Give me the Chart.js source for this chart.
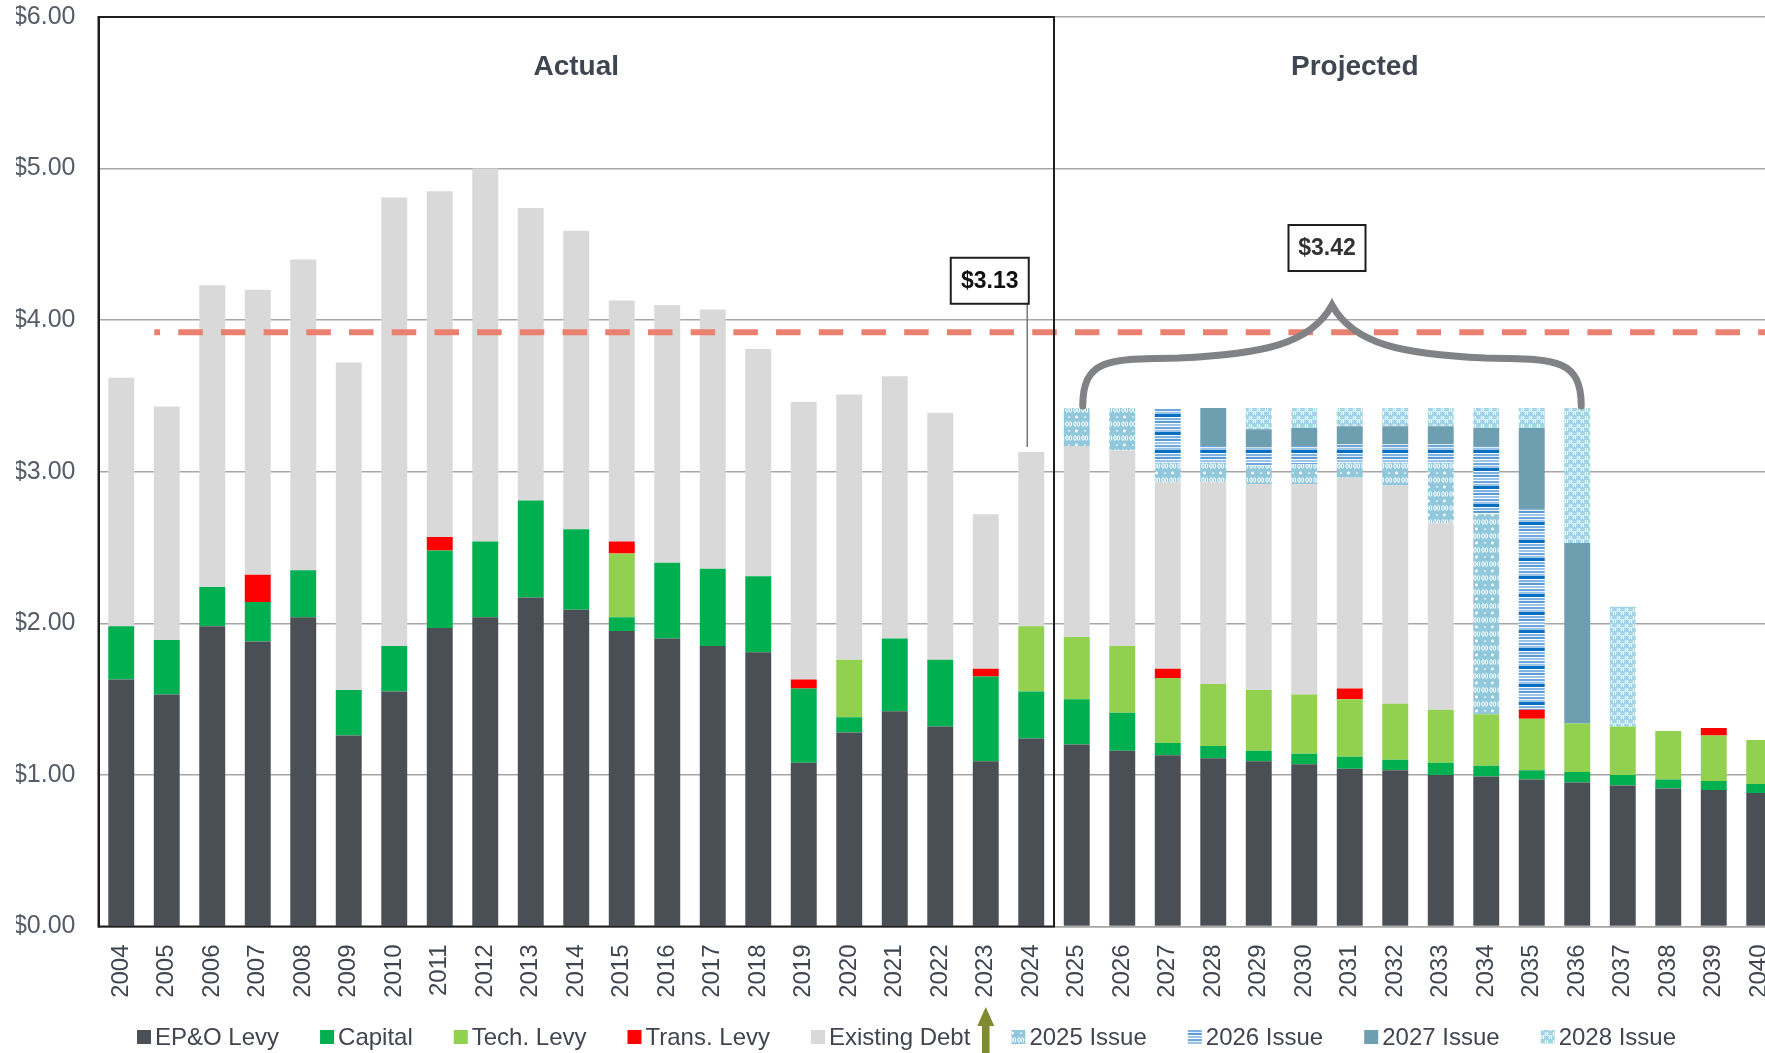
<!DOCTYPE html>
<html>
<head>
<meta charset="utf-8">
<script src="https://cdn.jsdelivr.net/npm/chart.js@4.4.1/dist/chart.umd.min.js"></script>
<style>
  html, body { margin: 0; padding: 0; overflow: hidden; background: #fff; }
  #wrap { position: absolute; left: 0; top: 0; width: 1816px; height: 1053px; }
</style>
</head>
<body>
<div id="wrap"><canvas id="chart" width="1816" height="1053"></canvas></div>
<script>
// categories
const years = ['2004','2005','2006','2007','2008','2009','2010','2011','2012','2013','2014',
  '2015','2016','2017','2018','2019','2020','2021','2022','2023','2024',
  '2025','2026','2027','2028','2029','2030','2031','2032','2033','2034',
  '2035','2036','2037','2038','2039','2040'];

// stacked segments, bottom to top
const epoLevy = [1.63,1.53,1.98,1.88,2.04,1.26,1.55,1.97,2.04,2.17,2.09,
  1.95,1.90,1.85,1.81,1.08,1.28,1.42,1.32,1.09,1.24,
  1.20,1.16,1.13,1.11,1.09,1.07,1.04,1.03,1.00,0.99,
  0.97,0.95,0.93,0.91,0.90,0.88];
const capital = [0.35,0.36,0.26,0.26,0.31,0.30,0.30,0.51,0.50,0.64,0.53,
  0.09,0.50,0.51,0.50,0.49,0.10,0.48,0.44,0.56,0.31,
  0.30,0.25,0.08,0.08,0.07,0.07,0.08,0.07,0.08,0.07,
  0.06,0.07,0.07,0.06,0.06,0.06];
const techLevy = [0,0,0,0,0,0,0,0,0,0,0,
  0.42,0,0,0,0,0.38,0,0,0,0.43,
  0.41,0.44,0.43,0.41,0.40,0.39,0.38,0.37,0.35,0.34,
  0.34,0.32,0.32,0.32,0.30,0.29];
const transLevy = [0,0,0,0.18,0,0,0,0.09,0,0,0,
  0.08,0,0,0,0.06,0,0,0,0.05,0,
  0,0,0.06,0,0,0,0.07,0,0,0,
  0.06,0,0,0,0.05,0];
const existingDebt = [1.64,1.54,1.99,1.88,2.05,2.16,2.96,2.28,2.46,1.93,1.97,
  1.59,1.70,1.71,1.50,1.83,1.75,1.73,1.63,1.02,1.15,
  1.26,1.29,1.23,1.33,1.36,1.39,1.39,1.44,1.23,0,
  0,0,0,0,0,0];
const issue2025 = [0,0,0,0,0,0,0,0,0,0,0,
  0,0,0,0,0,0,0,0,0,0,
  0.25,0.28,0.13,0.13,0.12,0.13,0.10,0.15,0.40,1.32,
  0,0,0,0,0,0];
const issue2026 = [0,0,0,0,0,0,0,0,0,0,0,
  0,0,0,0,0,0,0,0,0,0,
  0,0,0.36,0.11,0.12,0.12,0.12,0.12,0.12,0.45,
  1.32,0,0,0,0,0];
const issue2027 = [0,0,0,0,0,0,0,0,0,0,0,
  0,0,0,0,0,0,0,0,0,0,
  0,0,0,0.25,0.12,0.12,0.12,0.12,0.12,0.12,
  0.54,1.19,0,0,0,0];
const issue2028 = [0,0,0,0,0,0,0,0,0,0,0,
  0,0,0,0,0,0,0,0,0,0,
  0,0,0,0,0.14,0.13,0.12,0.12,0.12,0.13,
  0.13,0.89,0.79,0,0,0];

// y axis ticks
const yTickValues = [0, 1, 2, 3, 4, 5, 6];
const yTickLabels = ['$0.00', '$1.00', '$2.00', '$3.00', '$4.00', '$5.00', '$6.00'];

// annotations
const levyCap = 3.92;
const actualLast = 3.13;
const actualLastLabel = '$3.13';
const projectedLevel = 3.42;
const projectedLabel = '$3.42';

const FONT = "'Liberation Sans', Arial, sans-serif";

function tile(w, h, draw) {
  const c = document.createElement('canvas');
  c.width = w; c.height = h;
  draw(c.getContext('2d'));
  return document.getElementById('chart').getContext('2d').createPattern(c, 'repeat');
}

// 2025 issue: light blue with white rings and dots
const pat2025 = tile(16, 14, g => {
  g.fillStyle = '#92c8dc'; g.fillRect(0, 0, 16, 14);
  g.strokeStyle = '#ffffff'; g.lineWidth = 1;
  [[3, 4], [6.5, 4], [11, 4], [14.5, 4]].forEach(([cx, cy]) => {
    g.beginPath(); g.ellipse(cx, cy, 1.2, 2.4, 0, 0, Math.PI * 2); g.stroke();
  });
  g.fillStyle = '#ffffff';
  g.beginPath(); g.arc(4.5, 11, 1.4, 0, Math.PI * 2); g.fill();
  g.fillStyle = '#c7e4ef';
  g.fillRect(12, 10, 2, 2);
});

// 2026 issue: horizontal blue stripes
const pat2026 = tile(4, 18, g => {
  const rows = [[0, 3, '#0b6fc1'], [3, 1, '#ffffff'], [4, 2, '#7fb2e0'], [6, 1, '#e2eef8'],
    [7, 2, '#5b9bd5'], [9, 1, '#ffffff'], [10, 2, '#9cc3e8'], [12, 1, '#ffffff'],
    [13, 2, '#6fa6dc'], [15, 1, '#e2eef8'], [16, 2, '#9cc3e8']];
  rows.forEach(([y0, hh, col]) => { g.fillStyle = col; g.fillRect(0, y0, 4, hh); });
});

// 2028 issue: pale blue with short white vertical dashes
const pat2028 = tile(8, 8, g => {
  g.fillStyle = '#a6d3e4'; g.fillRect(0, 0, 8, 8);
  g.fillStyle = '#ffffff';
  g.fillRect(1, 0, 1, 3); g.fillRect(3, 0, 1, 3);
  g.fillRect(5, 4, 1, 3); g.fillRect(7, 4, 1, 3);
  g.fillStyle = '#d3ebf3';
  g.fillRect(0, 3, 8, 1);
});

function series(label, data, color) {
  return { label, data, backgroundColor: color, borderWidth: 0, stack: 's',
    barPercentage: 0.57, categoryPercentage: 1.0 };
}

const overlay = {
  id: 'overlay',
  afterDatasetsDraw(chart) {
    const { ctx, chartArea, scales: { x, y } } = chart;
    ctx.save();

    // limit line
    const yCap = y.getPixelForValue(levyCap);
    ctx.strokeStyle = '#ea8070';
    ctx.lineWidth = 6;
    ctx.setLineDash([24.5, 18.2]);
    ctx.lineDashOffset = 18.7;
    ctx.beginPath();
    ctx.moveTo(x.getPixelForValue(0) + 33, yCap);
    ctx.lineTo(chartArea.right, yCap);
    ctx.stroke();
    ctx.setLineDash([]);

    // "Actual" frame
    const split = (x.getPixelForValue(20) + x.getPixelForValue(21)) / 2;
    const top = y.getPixelForValue(6), bottom = y.getPixelForValue(0);
    ctx.strokeStyle = '#1e1e1e';
    ctx.lineWidth = 2;
    ctx.strokeRect(chartArea.left, top, split - chartArea.left, bottom - top);

    // section titles
    ctx.fillStyle = '#3f4652';
    ctx.font = `bold 28px ${FONT}`;
    ctx.textAlign = 'center';
    ctx.textBaseline = 'middle';
    ctx.fillText('Actual', (chartArea.left + split) / 2, top + 50);
    ctx.fillText('Projected', x.getPixelForValue(27) + 5, top + 50);

    // $3.13 call-out
    const bx = x.getPixelForValue(19) + 4, by = y.getPixelForValue(4.26);
    ctx.strokeStyle = '#777777';
    ctx.lineWidth = 1.5;
    ctx.beginPath();
    ctx.moveTo(x.getPixelForValue(20) - 4, by + 23);
    ctx.lineTo(x.getPixelForValue(20) - 4, y.getPixelForValue(actualLast) - 5);
    ctx.stroke();
    ctx.fillStyle = '#ffffff';
    ctx.fillRect(bx - 39, by - 23, 78, 46);
    ctx.strokeStyle = '#1e1e1e';
    ctx.lineWidth = 2;
    ctx.strokeRect(bx - 39, by - 23, 78, 46);
    ctx.fillStyle = '#111111';
    ctx.font = `bold 23px ${FONT}`;
    ctx.fillText(actualLastLabel, bx, by + 1);

    // brace over projected bars
    const x0 = x.getPixelForValue(21) + 6, x1 = x.getPixelForValue(32) + 4;
    const xm = (x0 + x1) / 2;
    const yb = y.getPixelForValue(projectedLevel) - 2;
    const ya = yb - 49, yp = yb - 101;
    ctx.strokeStyle = '#808285';
    ctx.lineWidth = 7;
    ctx.lineCap = 'round';
    ctx.beginPath();
    ctx.moveTo(x0, yb);
    ctx.bezierCurveTo(x0, ya, x0 + 28, ya + 2, x0 + 96, ya + 1);
    ctx.bezierCurveTo(xm - 72, ya - 3, xm - 22, ya - 12, xm, yp);
    ctx.bezierCurveTo(xm + 22, ya - 12, xm + 72, ya - 3, x1 - 96, ya + 1);
    ctx.bezierCurveTo(x1 - 28, ya + 2, x1, ya, x1, yb);
    ctx.stroke();
    ctx.lineCap = 'butt';

    // $3.42 label
    const px = xm - 5, py = y.getPixelForValue(4.476);
    ctx.fillStyle = '#ffffff';
    ctx.fillRect(px - 38.5, py - 23, 77, 46);
    ctx.strokeStyle = '#1e1e1e';
    ctx.lineWidth = 2;
    ctx.strokeRect(px - 38.5, py - 23, 77, 46);
    ctx.fillStyle = '#333333';
    ctx.fillText(projectedLabel, px, py + 1);

    ctx.restore();
  },
  afterDraw(chart) {
    const { ctx, scales: { x } } = chart;
    ctx.save();
    // legend
    ctx.font = `24px ${FONT}`;
    ctx.textBaseline = 'middle';
    ctx.textAlign = 'left';
    let lx = 137;
    const ly = 1037;
    chart.data.datasets.forEach(ds => {
      ctx.fillStyle = ds.backgroundColor;
      ctx.fillRect(lx, ly - 7, 14, 14);
      ctx.fillStyle = '#40454f';
      ctx.fillText(ds.label, lx + 18, ly + 1);
      lx += 18 + ctx.measureText(ds.label).width + 41;
    });
    // arrow under 2023
    const ax = x.getPixelForValue(19);
    ctx.fillStyle = '#7f8b30';
    ctx.beginPath();
    ctx.moveTo(ax, 1007);
    ctx.lineTo(ax + 8.5, 1026);
    ctx.lineTo(ax + 3.8, 1026);
    ctx.lineTo(ax + 3.8, 1060);
    ctx.lineTo(ax - 3.8, 1060);
    ctx.lineTo(ax - 3.8, 1026);
    ctx.lineTo(ax - 8.5, 1026);
    ctx.closePath();
    ctx.fill();
    ctx.restore();
  }
};

new Chart(document.getElementById('chart').getContext('2d'), {
  type: 'bar',
  data: {
    labels: years,
    datasets: [
      series('EP&O Levy', epoLevy, '#4a4f56'),
      series('Capital', capital, '#00b050'),
      series('Tech. Levy', techLevy, '#92d050'),
      series('Trans. Levy', transLevy, '#ff0000'),
      series('Existing Debt', existingDebt, '#d9d9d9'),
      series('2025 Issue', issue2025, pat2025),
      series('2026 Issue', issue2026, pat2026),
      series('2027 Issue', issue2027, '#6e9fb1'),
      series('2028 Issue', issue2028, pat2028)
    ]
  },
  options: {
    responsive: false,
    animation: false,
    layout: { padding: { left: 16, right: 34, top: 17, bottom: 56.5 } },
    plugins: { legend: { display: false }, tooltip: { enabled: false } },
    scales: {
      x: {
        stacked: true,
        grid: { display: false, drawTicks: false },
        border: { display: true, color: '#a6a6a6', width: 1.5 },
        ticks: { autoSkip: false, minRotation: 90, maxRotation: 90, padding: 18,
          color: '#3f4550', font: { family: FONT, size: 24 } },
        afterFit: axis => { axis.height = 70; axis.paddingLeft = 0; axis.paddingRight = 0; }
      },
      y: {
        stacked: true,
        min: 0,
        max: 6,
        afterBuildTicks: axis => { axis.ticks = yTickValues.map(v => ({ value: v })); },
        afterFit: axis => { axis.width = 82.5; axis.paddingTop = 0; axis.paddingBottom = 0; },
        grid: { color: '#a6a6a6', lineWidth: 1.5, drawTicks: false },
        border: { display: true, color: '#1e1e1e', width: 2 },
        ticks: { padding: 23, color: '#555c66', font: { family: FONT, size: 25 },
          callback: (v) => yTickLabels[yTickValues.indexOf(v)] }
      }
    }
  },
  plugins: [overlay]
});
</script>
</body>
</html>
